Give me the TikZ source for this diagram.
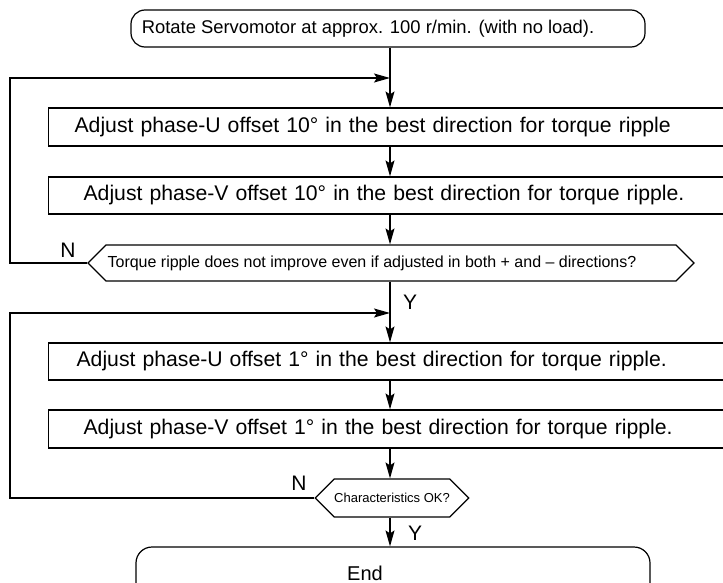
\documentclass[tikz,border=0pt]{standalone}
\usepackage{fontspec}
\setmainfont{Liberation Sans}
\usepackage{tikz}
\usetikzlibrary{arrows.meta,positioning,shapes.symbols}

\begin{document}
\begin{tikzpicture}[x=0.5pt,y=-0.5pt,line width=0.6pt,
  term/.style={draw,rounded corners=7pt,minimum width=257pt,inner sep=0pt},
  stepbox/.style={draw,anchor=west,text width=317.5pt,inner xsep=13pt,inner ysep=0pt,align=left,minimum height=18.5pt,font=\fontsize{10.6}{12}\selectfont},
  test/.style={draw,signal,signal to=west and east,inner sep=0pt},
  yn/.style={font=\fontsize{10.5}{12}\selectfont,inner sep=0pt},
  flow/.style={-{Stealth[length=8pt,width=4.5pt,inset=1.5pt]}}]
\useasboundingbox (0,0) rectangle (723,583);
\clip (0,0) rectangle (723,583);
\node[term,minimum height=18.5pt,font=\fontsize{9.2}{11}\selectfont] (start) at (388,28.5) {\hspace*{-20pt}Rotate Servomotor at approx. 100 r/min. (with no load).};
\node[stepbox,minimum height=19pt] (adjU10) at (48,127) {Adjust phase-U offset 10° in the best direction for torque ripple};
\node[stepbox,text width=308.5pt,inner xsep=17.5pt] (adjV10) at (48,195.5) {Adjust phase-V offset 10° in the best direction for torque ripple.};
\node[test,minimum width=303pt,minimum height=18pt,font=\fontsize{8}{10}\selectfont] (chk10) at (391,263) {\hspace*{-19pt}Torque ripple does not improve even if adjusted in both + and – directions?};
\node[stepbox,text width=315.5pt,inner xsep=14pt] (adjU1) at (48,361.5) {Adjust phase-U offset 1° in the best direction for torque ripple.};
\node[stepbox,text width=308.5pt,inner xsep=17.5pt,minimum height=19pt] (adjV1) at (48,429) {Adjust phase-V offset 1° in the best direction for torque ripple.};
\node[test,minimum width=75pt,minimum height=19pt,font=\fontsize{6.5}{8}\selectfont] (chk1) at (392,498) {Characteristics OK?};
\node[term,rounded corners=8pt,minimum height=26pt,font=\fontsize{10}{12}\selectfont] (finish) at (393,573) {\hspace*{-28pt}End};

\coordinate (j1) at (390,78);
\coordinate (w1) at (10,78);
\coordinate (j2) at (390,313);
\coordinate (w2) at (10,313);

\draw[flow] (start.south -| j1) -- (adjU10.north -| j1);
\draw[flow] (chk10.west) -| (w1) -- (j1);
\draw[flow] (adjU10.south -| j1) -- (adjV10.north -| j1);
\draw[flow] (adjV10.south -| j1) -- (chk10.north -| j1);
\draw[flow] (chk10.south -| j1) -- (adjU1.north -| j1);
\draw[flow] (chk1.west) -| (w2) -- (j2);
\draw[flow] (adjU1.south -| j1) -- (adjV1.north -| j1);
\draw[flow] (adjV1.south -| j1) -- (chk1.north -| j1);
\draw[flow] (chk1.south -| j1) -- (finish.north -| j1);

\node[yn] (n1) at (68,250) {N};
\node[yn] (y1) at (410,302) {Y};
\node[yn] (n2) at (299,483) {N};
\node[yn] (y2) at (415,533) {Y};
\end{tikzpicture}
\end{document}
